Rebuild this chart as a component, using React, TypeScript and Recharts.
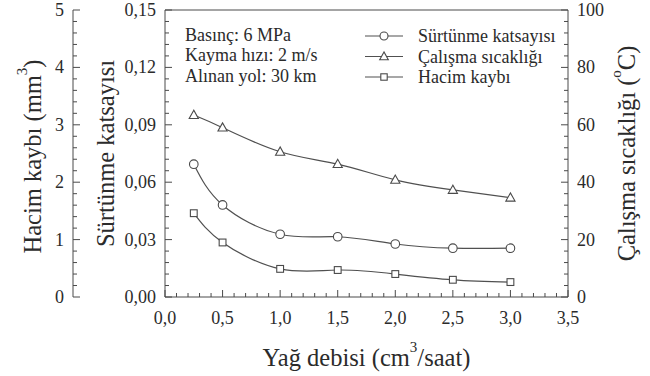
import React from 'react';
import { ComposedChart, Line, XAxis, YAxis, Legend, ReferenceLine, Customized } from 'recharts';

// ---- data ----
const flowRates = [0.25, 0.5, 1.0, 1.5, 2.0, 2.5, 3.0];
const frictionCoef = [0.0694, 0.0481, 0.0328, 0.0315, 0.0277, 0.0255, 0.0255];
const workingTemp = [63.4, 59.0, 50.6, 46.3, 40.8, 37.3, 34.6];
const volumeLoss = [1.46, 0.95, 0.49, 0.47, 0.4, 0.3, 0.26];

const xMajorTicks = [0, 0.5, 1.0, 1.5, 2.0, 2.5, 3.0, 3.5];
const frictionMajorTicks = [0, 0.03, 0.06, 0.09, 0.12, 0.15];
const volumeMajorTicks = [0, 1, 2, 3, 4, 5];
const tempMajorTicks = [0, 20, 40, 60, 80, 100];

const seriesNames = ['Sürtünme katsayısı', 'Çalışma sıcaklığı', 'Hacim kaybı'];
const notes = ['Basınç: 6 MPa', 'Kayma hızı: 2 m/s', 'Alınan yol: 30 km'];

const data = flowRates.map((f, i) => ({
  flow: f,
  friction: frictionCoef[i],
  temp: workingTemp[i],
  volume: volumeLoss[i],
}));

const withMinor = (majors: number[], parts = 5) => {
  const out: number[] = [];
  for (let i = 0; i < majors.length - 1; i++) {
    const a = majors[i];
    const b = majors[i + 1];
    for (let k = 0; k < parts; k++) out.push(+(a + ((b - a) * k) / parts).toFixed(6));
  }
  out.push(majors[majors.length - 1]);
  return out;
};

const FONT = "'Liberation Serif', 'Times New Roman', Times, serif";
const TEXT = '#2b2b2b';
const LINE = '#4a4a4a';
const SERIES = '#505050';
const TICK_FS = 18;
const TITLE_FS = 24.5;
const SUP_FS = 15;
const txtStyle = (fs: number) => ({ fontFamily: FONT, fontSize: fs, fill: TEXT });

const makeTick = (side: 'left' | 'right' | 'bottom', majors: number[], fmt: (v: number) => string) =>
  (props: any) => {
    const { x, y, payload } = props;
    const v = payload.value as number;
    const major = majors.some((m) => Math.abs(m - v) < 1e-6);
    const len = major ? 7 : 4;
    if (side === 'bottom') {
      return (
        <g>
          <line x1={x} y1={y} x2={x} y2={y - len} stroke={LINE} strokeWidth={1} />
          {major && (
            <text x={x} y={y + 21} textAnchor="middle" dominantBaseline="central" style={txtStyle(TICK_FS)}>
              {fmt(v)}
            </text>
          )}
        </g>
      );
    }
    const dir = side === 'left' ? 1 : -1;
    return (
      <g>
        <line x1={x} y1={y} x2={x + dir * len} y2={y} stroke={LINE} strokeWidth={1} />
        {major && (
          <text
            x={x - dir * 9}
            y={y}
            textAnchor={side === 'left' ? 'end' : 'start'}
            dominantBaseline="central"
            style={txtStyle(TICK_FS)}
          >
            {fmt(v)}
          </text>
        )}
      </g>
    );
  };

const comma = (d: number) => (v: number) => v.toFixed(d).replace('.', ',');

const VerticalTitle = ({ cx, cy, children }: any) => (
  <text
    x={cx}
    y={cy}
    transform={`rotate(-90 ${cx} ${cy})`}
    textAnchor="middle"
    dominantBaseline="central"
    style={txtStyle(TITLE_FS)}
  >
    {children}
  </text>
);

const CircleDot = (p: any) =>
  p.cx == null ? <g key={p.key} /> : <circle key={p.key} cx={p.cx} cy={p.cy} r={4.3} fill="#fff" stroke={LINE} strokeWidth={1.1} />;
const TriangleDot = (p: any) =>
  p.cx == null ? <g key={p.key} /> : (
    <polygon
      key={p.key}
      points={`${p.cx},${p.cy - 4.8} ${p.cx - 4.6},${p.cy + 3.4} ${p.cx + 4.6},${p.cy + 3.4}`}
      fill="#fff"
      stroke={LINE}
      strokeWidth={1.1}
    />
  );
const SquareDot = (p: any) =>
  p.cx == null ? <g key={p.key} /> : (
    <rect key={p.key} x={p.cx - 3.4} y={p.cy - 3.4} width={6.8} height={6.8} fill="#fff" stroke={LINE} strokeWidth={1.1} />
  );

const legendMarkers = [
  (cx: number, cy: number) => <circle cx={cx} cy={cy} r={4} fill="#fff" stroke={LINE} strokeWidth={1.1} />,
  (cx: number, cy: number) => (
    <polygon points={`${cx},${cy - 4.5} ${cx - 4.3},${cy + 3.2} ${cx + 4.3},${cy + 3.2}`} fill="#fff" stroke={LINE} strokeWidth={1.1} />
  ),
  (cx: number, cy: number) => <rect x={cx - 3.2} y={cy - 3.2} width={6.4} height={6.4} fill="#fff" stroke={LINE} strokeWidth={1.1} />,
];

const LegendContent = () => (
  <svg width={210} height={70} style={{ display: 'block', overflow: 'visible' }}>
    {seriesNames.map((name, i) => {
      const cy = 15 + i * 20.5;
      return (
        <g key={name}>
          <line x1={2} x2={40} y1={cy} y2={cy} stroke={SERIES} strokeWidth={1.2} />
          {legendMarkers[i](21, cy)}
          <text x={55} y={cy} dominantBaseline="central" style={txtStyle(TICK_FS)}>
            {name}
          </text>
        </g>
      );
    })}
  </svg>
);

const Notes = () => (
  <g>
    {notes.map((t, i) => (
      <text key={t} x={185} y={41 + i * 20.3} style={txtStyle(TICK_FS)}>
        {t}
      </text>
    ))}
  </g>
);

export default function App() {
  return (
    <div style={{ position: 'absolute', left: 0, top: 0, width: 650, height: 376, background: '#fff', fontFamily: FONT }}>
      <ComposedChart width={650} height={376} data={data} margin={{ top: 10, right: 0, bottom: 0, left: 0 }} style={{ fontFamily: FONT }}>
        <XAxis
          dataKey="flow"
          type="number"
          domain={[0, 3.5]}
          ticks={withMinor(xMajorTicks)}
          interval={0}
          height={79}
          tickSize={0}
          tickMargin={0}
          tickLine={false}
          axisLine={{ stroke: LINE, strokeWidth: 1 }}
          tick={makeTick('bottom', xMajorTicks, comma(1))}
          label={(lp: any) => {
            const vb = lp.viewBox;
            const cx = vb.x + vb.width / 2;
            const cy = vb.y + 60;
            return (
              <text x={cx} y={cy} textAnchor="middle" dominantBaseline="central" style={txtStyle(TITLE_FS)}>
                Yağ debisi (cm<tspan dy={-10} style={{ fontSize: SUP_FS }}>3</tspan>
                <tspan dy={10}>/saat)</tspan>
              </text>
            );
          }}
        />
        <YAxis
          yAxisId="fr"
          orientation="left"
          width={92}
          type="number"
          domain={[0, 0.15]}
          ticks={withMinor(frictionMajorTicks)}
          interval={0}
          tickSize={0}
          tickMargin={0}
          tickLine={false}
          axisLine={{ stroke: LINE, strokeWidth: 1 }}
          tick={makeTick('left', frictionMajorTicks, comma(2))}
          label={(lp: any) => {
            const vb = lp.viewBox;
            return (
              <VerticalTitle cx={vb.x + 32} cy={vb.y + vb.height / 2}>
                Sürtünme katsayısı
              </VerticalTitle>
            );
          }}
        />
        <YAxis
          yAxisId="vol"
          orientation="left"
          width={73}
          type="number"
          domain={[0, 5]}
          ticks={withMinor(volumeMajorTicks)}
          interval={0}
          tickSize={0}
          tickMargin={0}
          tickLine={false}
          axisLine={{ stroke: LINE, strokeWidth: 1 }}
          tick={makeTick('left', volumeMajorTicks, (v) => String(v))}
          label={(lp: any) => {
            const vb = lp.viewBox;
            return (
              <VerticalTitle cx={vb.x + 32} cy={vb.y + vb.height / 2 + 3}>
                Hacim kaybı (mm<tspan dy={-10} style={{ fontSize: SUP_FS }}>3</tspan>
                <tspan dy={10}>)</tspan>
              </VerticalTitle>
            );
          }}
        />
        <YAxis
          yAxisId="temp"
          orientation="right"
          width={82}
          type="number"
          domain={[0, 100]}
          ticks={withMinor(tempMajorTicks)}
          interval={0}
          tickSize={0}
          tickMargin={0}
          tickLine={false}
          axisLine={{ stroke: LINE, strokeWidth: 1 }}
          tick={makeTick('right', tempMajorTicks, (v) => String(v))}
          label={(lp: any) => {
            const vb = lp.viewBox;
            return (
              <VerticalTitle cx={vb.x + 58} cy={vb.y + vb.height / 2}>
                Çalışma sıcaklığı (<tspan dy={-10} style={{ fontSize: SUP_FS }}>o</tspan>
                <tspan dy={10}>C)</tspan>
              </VerticalTitle>
            );
          }}
        />
        <ReferenceLine yAxisId="fr" y={0.15} stroke={LINE} strokeWidth={1} />
        <Line
          yAxisId="fr"
          dataKey="friction"
          name={seriesNames[0]}
          type="natural"
          stroke={SERIES}
          strokeWidth={1.2}
          dot={CircleDot}
          activeDot={false}
          isAnimationActive={false}
        />
        <Line
          yAxisId="temp"
          dataKey="temp"
          name={seriesNames[1]}
          type="natural"
          stroke={SERIES}
          strokeWidth={1.2}
          dot={TriangleDot}
          activeDot={false}
          isAnimationActive={false}
        />
        <Line
          yAxisId="vol"
          dataKey="volume"
          name={seriesNames[2]}
          type="natural"
          stroke={SERIES}
          strokeWidth={1.2}
          dot={SquareDot}
          activeDot={false}
          isAnimationActive={false}
        />
        <Legend
          layout="vertical"
          align="center"
          verticalAlign="middle"
          content={LegendContent}
          wrapperStyle={{ left: 363, top: 21, width: 210, height: 70 }}
        />
        <Customized component={Notes} />
      </ComposedChart>
    </div>
  );
}
